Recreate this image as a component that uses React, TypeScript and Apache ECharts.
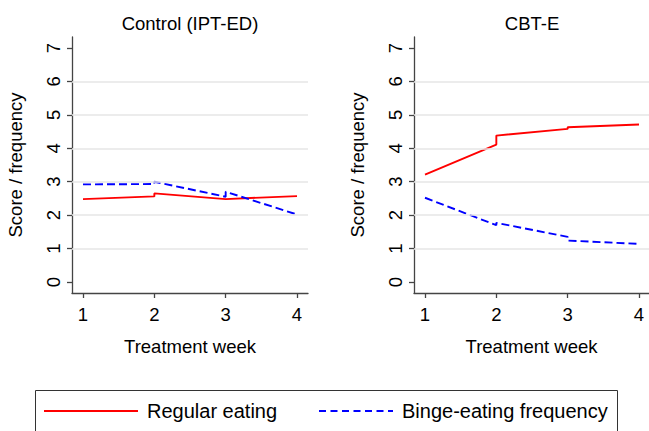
import React, { useEffect, useRef } from "react";
import * as echarts from "echarts";

const weeks = [1, 2, 3, 4];
const yTicks = [0, 1, 2, 3, 4, 5, 6, 7];
const gridValues = [1, 2, 3, 4, 5, 6];
const panelTitles = ["Control (IPT-ED)", "CBT-E"];
const seriesNames = ["Regular eating", "Binge-eating frequency"];

// Piecewise (per-week-interval) segment start/end values
const controlRegularStart = [2.48, 2.65, 2.48];
const controlRegularEnd = [2.56, 2.48, 2.57];
const controlBingeStart = [2.92, 3.0, 2.7];
const controlBingeEnd = [2.93, 2.55, 2.02];

const cbtRegularStart = [3.21, 4.38, 4.63];
const cbtRegularEnd = [4.11, 4.58, 4.71];
const cbtBingeStart = [2.52, 1.77, 1.24];
const cbtBingeEnd = [1.7, 1.35, 1.14];

function toPoints(starts: number[], ends: number[]) {
  const pts: number[][] = [];
  for (let i = 0; i < starts.length; i++) {
    pts.push([weeks[i], starts[i]]);
    pts.push([weeks[i + 1], ends[i]]);
  }
  return pts;
}

const FONT = "Liberation Sans, Arial, sans-serif";
const PAD = 11;
const DATA_TOP = 48;
const DATA_H = 234;
const DATA_W = 214;
const panelDataLeft = [83, 425];

export default function App() {
  const ref = useRef<HTMLDivElement>(null);
  useEffect(() => {
    if (!ref.current) return;
    const chart = echarts.init(ref.current, undefined, { renderer: "svg" });
    const unitY = DATA_H / (yTicks[yTicks.length - 1] - yTicks[0]);
    const yMinBox = yTicks[0] - PAD / unitY;
    const yMaxBox = yTicks[yTicks.length - 1] + PAD / unitY;

    const grids: any[] = [];
    const xAxes: any[] = [];
    const yAxes: any[] = [];
    const series: any[] = [];
    const titles: any[] = [];
    const axisColor = "#444";

    const panelData = [
      [toPoints(controlRegularStart, controlRegularEnd), toPoints(controlBingeStart, controlBingeEnd)],
      [toPoints(cbtRegularStart, cbtRegularEnd), toPoints(cbtBingeStart, cbtBingeEnd)],
    ];

    panelDataLeft.forEach((dl, p) => {
      const boxIdx = p * 2;
      const dataIdx = p * 2 + 1;
      grids.push({
        left: dl - PAD,
        top: DATA_TOP - PAD,
        width: DATA_W + 2 * PAD,
        height: DATA_H + 2 * PAD,
      });
      grids.push({ left: dl, top: DATA_TOP, width: DATA_W, height: DATA_H });
      titles.push({
        text: panelTitles[p],
        left: dl + DATA_W / 2,
        top: 14,
        textAlign: "center",
        padding: 0,
        textStyle: { fontFamily: FONT, fontSize: 18.5, fontWeight: "normal", color: "#000" },
      });
      xAxes.push({
        gridIndex: boxIdx,
        type: "value",
        min: 0,
        max: 1,
        name: "Treatment week",
        nameLocation: "middle",
        nameGap: 44,
        nameTextStyle: { fontFamily: FONT, fontSize: 18.5, color: "#000" },
        axisLine: { show: true, onZero: false, lineStyle: { color: axisColor, width: 1.3 } },
        axisTick: { show: false },
        axisLabel: { show: false },
        splitLine: { show: false },
      });
      yAxes.push({
        gridIndex: boxIdx,
        type: "value",
        min: yMinBox,
        max: yMaxBox,
        name: "Score / frequency",
        nameLocation: "middle",
        nameRotate: 90,
        nameGap: 47,
        nameTextStyle: { fontFamily: FONT, fontSize: 18.5, color: "#000" },
        axisLine: { show: true, onZero: false, lineStyle: { color: axisColor, width: 1.3 } },
        axisTick: { show: false },
        axisLabel: { show: false },
        splitLine: { show: false },
      });
      xAxes.push({
        gridIndex: dataIdx,
        type: "value",
        min: weeks[0],
        max: weeks[weeks.length - 1],
        interval: 1,
        offset: PAD,
        axisLine: { show: false, onZero: false },
        axisTick: { show: true, length: 5, lineStyle: { color: axisColor, width: 1.3 } },
        axisLabel: { fontFamily: FONT, fontSize: 18.5, color: "#000", margin: 12 },
        splitLine: { show: false },
      });
      yAxes.push({
        gridIndex: dataIdx,
        type: "value",
        min: yTicks[0],
        max: yTicks[yTicks.length - 1],
        interval: 1,
        offset: PAD,
        axisLine: { show: false, onZero: false },
        axisTick: { show: true, length: 5, lineStyle: { color: axisColor, width: 1.3 } },
        axisLabel: { fontFamily: FONT, fontSize: 18.5, color: "#000", rotate: 90, margin: 9 },
        splitLine: { show: false },
      });
      series.push({
        type: "line",
        xAxisIndex: boxIdx,
        yAxisIndex: boxIdx,
        data: [],
        silent: true,
        z: 1,
        markLine: {
          silent: true,
          symbol: "none",
          label: { show: false },
          lineStyle: { color: "#e6e6e6", type: "solid", width: 1.6 },
          data: gridValues.map((v) => ({ yAxis: v })),
        },
      });
      series.push({
        name: seriesNames[0],
        type: "line",
        xAxisIndex: dataIdx,
        yAxisIndex: dataIdx,
        data: panelData[p][0],
        symbol: "none",
        z: 3,
        color: "#ff0000",
        lineStyle: { color: "#ff0000", width: 1.9, type: "solid" },
      });
      series.push({
        name: seriesNames[1],
        type: "line",
        xAxisIndex: dataIdx,
        yAxisIndex: dataIdx,
        data: panelData[p][1],
        symbol: "none",
        z: 3,
        color: "#0000ff",
        lineStyle: { color: "#0000ff", width: 1.9, type: [8, 4] },
      });
    });

    const legendCommon = {
      top: 401,
      padding: 0,
      itemHeight: 14,
      selectedMode: false,
      itemStyle: { opacity: 0 },
      lineStyle: { width: 2 },
      textStyle: { fontFamily: FONT, fontSize: 20, color: "#000", padding: [0, 0, 0, 4] },
    };

    chart.setOption({
      animation: false,
      backgroundColor: "#fff",
      title: titles,
      grid: grids,
      xAxis: xAxes,
      yAxis: yAxes,
      series,
      legend: [
        { ...legendCommon, data: [seriesNames[0]], left: 43, itemWidth: 94 },
        {
          ...legendCommon,
          data: [seriesNames[1]],
          left: 318,
          itemWidth: 74,
          lineStyle: { width: 2, type: [7, 4.5] },
        },
      ],
      graphic: [
        {
          type: "rect",
          silent: true,
          shape: { x: 35.5, y: 390.5, width: 582, height: 60 },
          style: { fill: "none", stroke: "#333", lineWidth: 1 },
        },
      ],
    });
    return () => chart.dispose();
  }, []);
  return (
    <div
      ref={ref}
      style={{ position: "fixed", left: 0, top: 0, width: 649, height: 431 }}
    />
  );
}
